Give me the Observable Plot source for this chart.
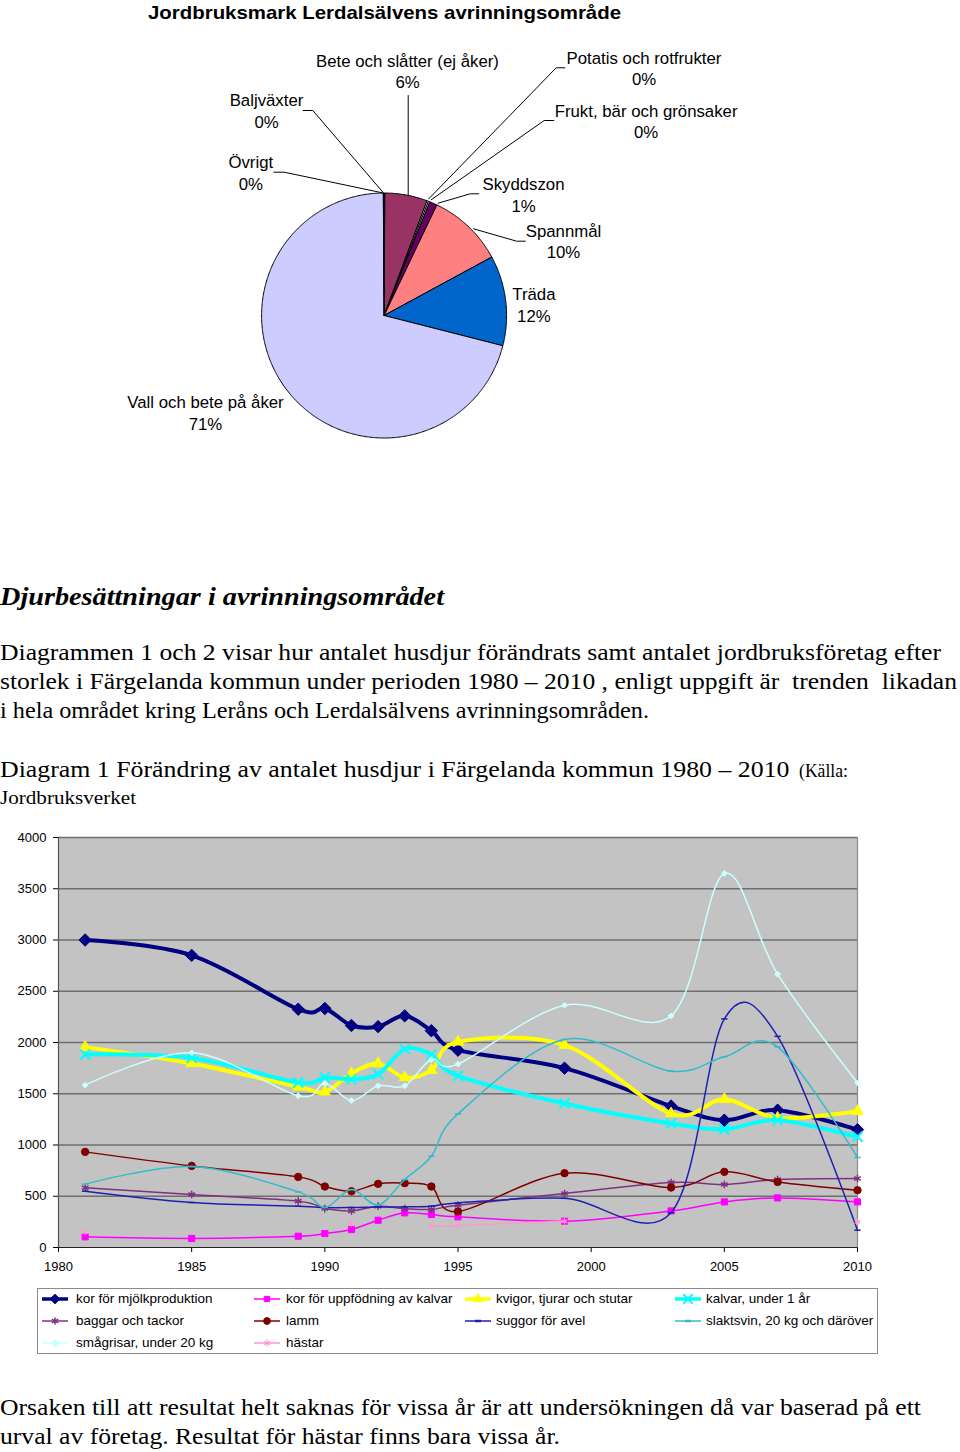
<!DOCTYPE html>
<html><head><meta charset="utf-8">
<script src="https://cdn.jsdelivr.net/npm/d3@7"></script>
<script src="https://cdn.jsdelivr.net/npm/@observablehq/plot@0.6"></script>
<style>
body{margin:0;background:#fff;}
#page{position:relative;width:960px;height:1452px;overflow:hidden;background:#fff;}
#page svg{position:absolute;left:0;}
.t{position:absolute;white-space:pre;line-height:1;transform-origin:0 50%;color:#000;}
#legend{position:absolute;left:37px;top:1288px;width:839px;height:64px;border:1px solid #8c8c8c;background:#fff;}
.lm{position:absolute;}
</style></head><body><div id="page"></div>
<script>
// ---------- DATA: pie ----------
const pieCategories = ["Baljväxter","Bete och slåtter (ej åker)","Frukt, bär och grönsaker","Potatis och rotfrukter","Skyddszon","Spannmål","Träda","Vall och bete på åker","Övrigt"];
const pieValues = [0.1, 5.6, 0.2, 0.2, 1.0, 10.0, 11.9, 71.0, 0.1];
const pieColors = ["#9999FF","#993366","#FFFFCC","#CCFFFF","#660066","#FF8080","#0066CC","#CCCCFF","#000080"];

// ---------- DATA: line chart ----------
const years = [1981,1985,1989,1990,1991,1992,1993,1994,1995,1999,2003,2005,2007,2010];
const korMjolk      = [3000,2850,2325,2332,2166,2155,2260,2115,1925,1750,1380,1242,1340,1150];
const korUppfodning = [104,88,110,136,175,266,338,322,299,257,357,445,484,445];
const kvigor        = [1955,1795,1567,1519,1698,1795,1659,1730,2006,1974,1307,1447,1265,1330];
const kalvar        = [1883,1850,1610,1659,1642,1690,1935,1880,1675,1405,1210,1154,1242,1080];
const baggar        = [582,517,452,380,357,403,380,371,413,527,634,615,663,673];
const lamm          = [933,796,689,595,549,621,628,595,351,725,585,738,640,559];
const suggor        = [549,439,403,390,390,395,397,403,435,480,340,2230,2060,169];
const slaktsvin     = [618,790,543,390,565,415,663,891,1304,2029,1720,1860,1958,878];
const smagrisar     = [1584,1899,1480,1600,1434,1577,1577,1834,1789,2364,2260,3649,2667,1607];
const hastar        = [152,null,null,null,238,null,null,215,215,257,null,null,null,250];
const seriesNames = ["kor för mjölkproduktion","kor för uppfödning av kalvar","kvigor, tjurar och stutar","kalvar, under 1 år","baggar och tackor","lamm","suggor för avel","slaktsvin, 20 kg och däröver","smågrisar, under 20 kg","hästar"];
const seriesValues = [korMjolk,korUppfodning,kvigor,kalvar,baggar,lamm,suggor,slaktsvin,smagrisar,hastar];
const xTicks = [1980,1985,1990,1995,2000,2005,2010];
const yTicks = [0,500,1000,1500,2000,2500,3000,3500,4000];

// ---------- STYLES / LAYOUT ----------
const dashSymbol = {draw(ctx, size){ const w = Math.sqrt(size)*0.6; ctx.moveTo(-w,0); ctx.lineTo(w,0); }};
const seriesStyle = [
  {color:"#000080", width:4,   symbol:"diamond2",  r:5.6, filled:true},
  {color:"#FF00FF", width:1.5, symbol:"square2",   r:3.9, filled:true},
  {color:"#FFFF00", width:4,   symbol:"triangle2", r:5.3, filled:true},
  {color:"#00FFFF", width:4,   symbol:"times",     r:4.6, filled:false, mstroke:2},
  {color:"#803080", width:1.5, symbol:"asterisk",  r:3.6, filled:false, mstroke:1.5},
  {color:"#800000", width:1.5, symbol:"circle",    r:3.7, filled:true},
  {color:"#2020B0", width:1.5, symbol:dashSymbol,  r:3,   filled:false, mstroke:1.5},
  {color:"#33BBCC", width:1.5, symbol:dashSymbol,  r:3,   filled:false, mstroke:1.5},
  {color:"#CCFFFF", width:1.5, symbol:"diamond2",  r:2.6, filled:true},
  {color:"#FF99CC", width:1.5, symbol:"asterisk",  r:3.2, filled:false, mstroke:1.2}
];
const legendSymbol = [d3.symbolDiamond2, d3.symbolSquare2, d3.symbolTriangle2, d3.symbolTimes, d3.symbolAsterisk, d3.symbolCircle, null, null, d3.symbolDiamond2, d3.symbolAsterisk];

const page = document.getElementById("page");
const mctx = document.createElement("canvas").getContext("2d");
function txt(str, x, yc, o = {}) {
  const size = o.size || 16, fam = o.family || "'Liberation Serif', serif";
  const font = `${o.style||"normal"} ${o.weight||"normal"} ${size}px ${fam}`;
  mctx.font = font;
  const w = mctx.measureText(str).width;
  const sx = o.width ? o.width / w : 1;
  const el = document.createElement("div");
  el.className = "t"; el.textContent = str; el.style.font = font; el.style.lineHeight = "1";
  el.style.left = x + "px"; el.style.top = (yc - 0.49*size) + "px";
  el.style.transform = `scaleX(${sx})`;
  page.appendChild(el);
}

// ---------- PIE ----------
const cx = 383.6, cy = 315, R = 122.5;
const arcs = d3.pie().sort(null).value(d => d)(pieValues);
const pieMarks = arcs.map((a, i) => {
  const n = Math.max(2, Math.ceil((a.endAngle - a.startAngle) / 0.01));
  const pts = [{x:0, y:0}];
  for (let k = 0; k <= n; k++) {
    const t = a.startAngle + (a.endAngle - a.startAngle) * k / n;
    pts.push({x: Math.sin(t), y: Math.cos(t)});
  }
  pts.push({x:0, y:0});
  return Plot.line(pts, {x:"x", y:"y", fill: pieColors[i], stroke:"#000", strokeWidth:1, strokeLinejoin:"miter"});
});
// label layout (pixel positions of label centre and leader line points)
const pieLabelLayout = [
  {x:266,   y:109.7, leader:[[302.6,110],[312.3,110],[382.9,192.3]]},
  {x:407,   y:70.2,  leader:[[407.7,95],[407.7,195]]},
  {x:645.6, y:119.9, leader:[[553.3,120],[543.7,120],[430.7,199.3]]},
  {x:643.5, y:67.2,  leader:[[564.3,67.3],[555.7,67.3],[428.3,198.3]]},
  {x:523,   y:193.5, leader:[[478.3,193.3],[469.7,193.3],[437.6,202.7]]},
  {x:563,   y:240.2, leader:[[524.8,240.7],[516.1,240.7],[473.1,228.3]]},
  {x:533.4, y:303.3, leader:null},
  {x:205,   y:411.7, leader:null},
  {x:250.3, y:171.4, leader:[[273.4,171.7],[283.7,171.7],[381.8,192.3]]}
];
const toX = px => (px - cx) / R, toY = py => (cy - py) / R;
const total = d3.sum(pieValues);
const labelRows = pieCategories.map((c, i) => ({
  x: toX(pieLabelLayout[i].x), y: toY(pieLabelLayout[i].y),
  text: c + "\n" + Math.round(pieValues[i] / total * 100) + "%"
}));
const leaderRows = [];
pieLabelLayout.forEach((l, i) => { if (l.leader) l.leader.forEach(p => leaderRows.push({id:i, x:toX(p[0]), y:toY(p[1])})); });

const pie = Plot.plot({
  width: 960, height: 460, margin: 0,
  x: {domain:[-1,1], range:[cx-R, cx+R], axis:null},
  y: {domain:[-1,1], range:[cy+R, cy-R], axis:null},
  style: {background:"transparent", fontFamily:"'Liberation Sans', Arial, sans-serif"},
  marks: [
    ...pieMarks,
    Plot.line(leaderRows, {x:"x", y:"y", z:"id", stroke:"#000", strokeWidth:1}),
    Plot.text(labelRows, {x:"x", y:"y", text:"text", fontSize:16.8, lineHeight:1.29, textAnchor:"middle", lineAnchor:"middle", fill:"#000"})
  ]
});
pie.style.top = "0px";
page.appendChild(pie);

// ---------- LINE CHART ----------
const chartMarks = [
  Plot.frame({fill:"#C3C3C3", stroke:null}),
  Plot.ruleY(yTicks.filter(v => v > 0), {stroke:"#6f6f6f", strokeWidth:1.6}),
  Plot.ruleX([2010], {stroke:"#8a8a8a", strokeWidth:1.2}),
  Plot.ruleX([1980], {stroke:"#555", strokeWidth:1.2}),
  Plot.ruleY([0], {stroke:"#222", strokeWidth:1.2})
];
seriesNames.forEach((name, i) => {
  const st = seriesStyle[i];
  const rows = years.map((yr, j) => ({year: yr, value: seriesValues[i][j]}));
  chartMarks.push(Plot.line(rows, {x:"year", y:"value", curve:"cardinal", stroke: st.color, strokeWidth: st.width}));
  chartMarks.push(Plot.dot(rows.filter(d => d.value != null), {
    x:"year", y:"value", symbol: st.symbol, r: st.r,
    fill: st.filled ? st.color : "none", stroke: st.color, strokeWidth: st.mstroke || 1
  }));
});
const chart = Plot.plot({
  width: 960, height: 460,
  marginLeft: 58, marginRight: 103, marginTop: 17, marginBottom: 33,
  x: {domain:[1980,2010], ticks: xTicks, tickFormat: d => String(d), tickSize: 5, tickPadding: 9, label: null},
  y: {domain:[0,4000], ticks: yTicks, tickFormat: d => String(d), tickSize: 5, tickPadding: 7, label: null},
  style: {background:"transparent", fontSize:"13px", fontFamily:"'Liberation Sans', Arial, sans-serif", color:"#000"},
  marks: chartMarks
});
chart.style.top = "820px";
page.appendChild(chart);

// ---------- LEGEND ----------
const legend = document.createElement("div");
legend.id = "legend";
page.appendChild(legend);
const colMarker = [42, 254, 464.5, 674.5], colText = [76, 286, 496, 706], rowY = [1299, 1321, 1343];
seriesNames.forEach((name, i) => {
  const col = i % 4, row = Math.floor(i / 4);
  const st = seriesStyle[i];
  const svgNS = "http://www.w3.org/2000/svg";
  const s = document.createElementNS(svgNS, "svg");
  s.setAttribute("width", 28); s.setAttribute("height", 14);
  s.setAttribute("class", "lm");
  s.style.left = colMarker[col] + "px"; s.style.top = (rowY[row] - 7) + "px";
  const ln = document.createElementNS(svgNS, "line");
  ln.setAttribute("x1", 0); ln.setAttribute("x2", 26); ln.setAttribute("y1", 7); ln.setAttribute("y2", 7);
  ln.setAttribute("stroke", st.color); ln.setAttribute("stroke-width", Math.min(st.width, 3.5));
  s.appendChild(ln);
  const sym = legendSymbol[i];
  if (sym) {
    const p = document.createElementNS(svgNS, "path");
    p.setAttribute("d", d3.symbol(sym, st.r > 4 ? 60 : 36)());
    p.setAttribute("transform", "translate(13,7)");
    p.setAttribute("fill", st.filled ? st.color : "none");
    p.setAttribute("stroke", st.color);
    p.setAttribute("stroke-width", st.mstroke || 1);
    s.appendChild(p);
  } else {
    const p = document.createElementNS(svgNS, "line");
    p.setAttribute("x1", 10); p.setAttribute("x2", 16); p.setAttribute("y1", 7); p.setAttribute("y2", 7);
    p.setAttribute("stroke", st.color); p.setAttribute("stroke-width", 2.5);
    s.appendChild(p);
  }
  page.appendChild(s);
  txt(name, colText[col], rowY[row], {size:13.5, family:"'Liberation Sans', Arial, sans-serif"});
});

// ---------- TEXTS ----------
const sans = "'Liberation Sans', Arial, sans-serif";
txt("Jordbruksmark Lerdalsälvens avrinningsområde", 148, 12, {size:19, family:sans, weight:"bold", width:473});
txt("Djurbesättningar i avrinningsområdet", 0, 596.7, {size:25, weight:"bold", style:"italic", width:444});
txt("Diagrammen 1 och 2 visar hur antalet husdjur förändrats samt antalet jordbruksföretag efter", 0, 652, {size:24, width:941});
txt("storlek i Färgelanda kommun under perioden 1980 – 2010 , enligt uppgift är  trenden  likadan", 0, 681, {size:24, width:957});
txt("i hela området kring Leråns och Lerdalsälvens avrinningsområden.", 0, 710, {size:24, width:649});
txt("Diagram 1 Förändring av antalet husdjur i Färgelanda kommun 1980 – 2010 ", 0, 768.5, {size:24, width:796});
txt("(Källa:", 799, 770, {size:19, width:49});
txt("Jordbruksverket", 0, 797, {size:19, width:136});
txt("Orsaken till att resultat helt saknas för vissa år är att undersökningen då var baserad på ett", 0, 1407, {size:24, width:921});
txt("urval av företag. Resultat för hästar finns bara vissa år.", 0, 1436, {size:24, width:560});
</script>
</body></html>
